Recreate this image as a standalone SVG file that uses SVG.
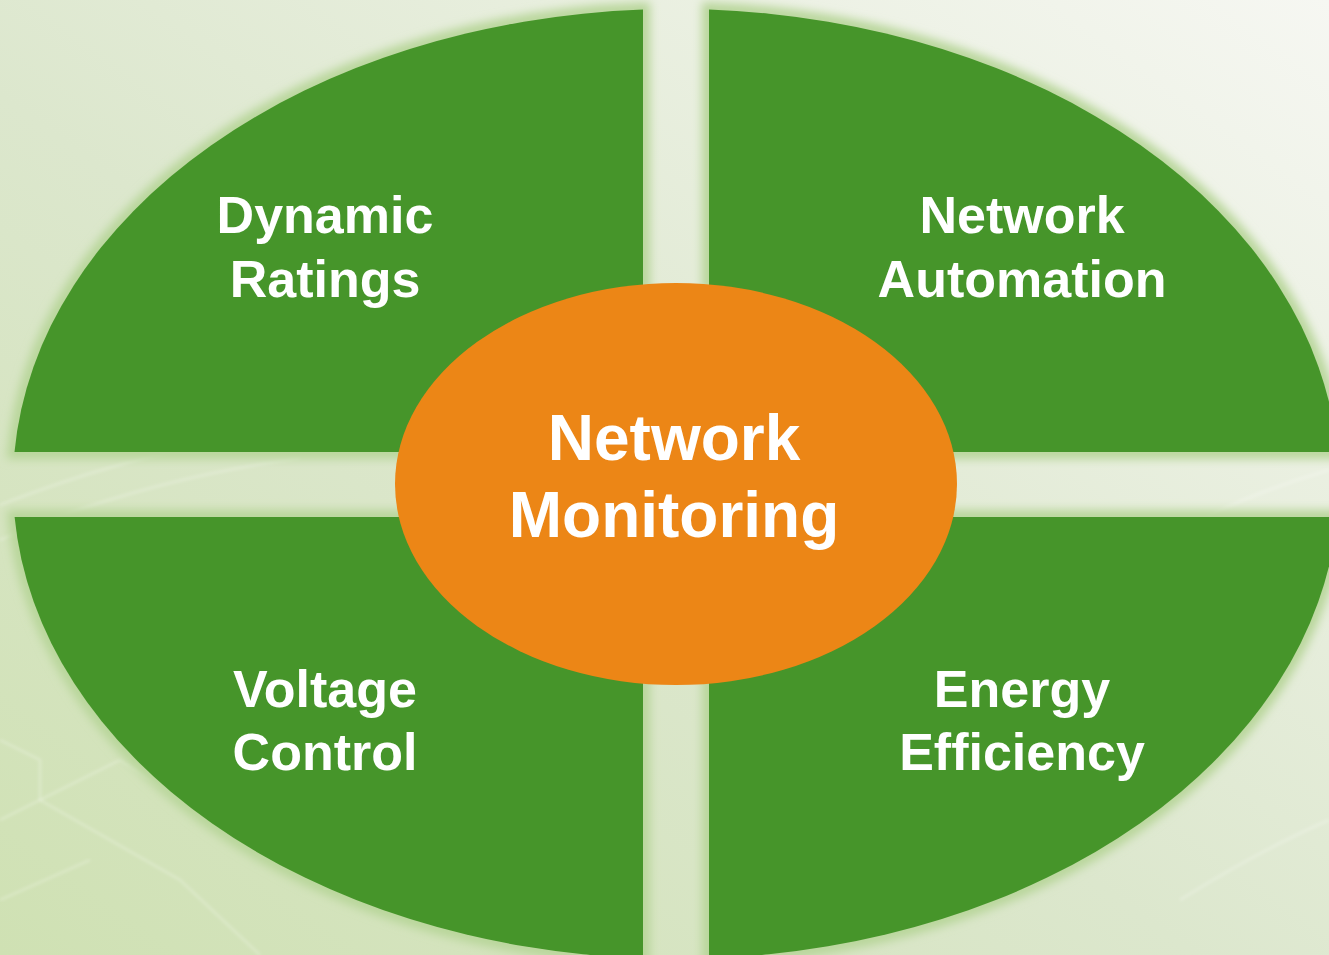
<svg xmlns="http://www.w3.org/2000/svg" width="1329" height="955" viewBox="0 0 1329 955">
  <defs>
    <linearGradient id="bg" x1="0" y1="1" x2="1" y2="0">
      <stop offset="0" stop-color="#cfe1b3"/>
      <stop offset="0.45" stop-color="#dce7cd"/>
      <stop offset="1" stop-color="#f6f7f2"/>
    </linearGradient>
    <filter id="halo" x="-10%" y="-10%" width="120%" height="120%">
      <feGaussianBlur stdDeviation="5"/>
    </filter>
    <filter id="soft" x="-5%" y="-5%" width="110%" height="110%">
      <feGaussianBlur stdDeviation="1.5"/>
    </filter>
    <style>
      .quad { fill: #46952a; }
      .glow { fill: none; stroke: #b8d69a; stroke-width: 14; filter: url(#halo); }
      .hub { fill: #ec8616; }
      .label { font-family: "Liberation Sans", Arial, sans-serif; font-weight: bold; fill: #ffffff; text-anchor: middle; }
      .small { font-size: 52px; }
      .big { font-size: 64px; }
      .wire { fill: none; stroke: #ffffff; stroke-opacity: 0.2; stroke-width: 3; filter: url(#soft); }
    </style>
  </defs>

  <!-- backdrop -->
  <rect x="0" y="0" width="1329" height="955" fill="url(#bg)"/>
  <g id="backdrop-texture">
    <path class="wire" d="M0,540 Q140,480 300,458"/>
    <path class="wire" d="M0,505 Q90,470 170,452"/>
    <path class="wire" d="M1200,520 Q1260,490 1329,470"/>
    <path class="wire" d="M0,740 L40,760 L40,800 L180,880 L260,955"/>
    <path class="wire" d="M0,820 L120,760 L260,850"/>
    <path class="wire" d="M0,900 L90,860"/>
    <path class="wire" d="M1180,900 Q1260,850 1329,820"/>
  </g>

  <!-- soft light rim around the quadrants -->
  <g id="rims">
    <path class="glow" d="M643,452 L14.5,452 A663,475 0 0 1 643,9.6 Z"/>
    <path class="glow" d="M709,452 L709,9.6 A663,475 0 0 1 1337.5,452 Z"/>
    <path class="glow" d="M643,517 L14.6,517 A663,475 0 0 0 643,958.4 Z"/>
    <path class="glow" d="M709,517 L1337.4,517 A663,475 0 0 1 709,958.4 Z"/>
  </g>

  <g id="dynamic-ratings">
    <path class="quad" d="M643,452 L14.5,452 A663,475 0 0 1 643,9.6 Z"/>
    <text class="label small" x="325" y="233">Dynamic</text>
    <text class="label small" x="325" y="297">Ratings</text>
  </g>

  <g id="network-automation">
    <path class="quad" d="M709,452 L709,9.6 A663,475 0 0 1 1337.5,452 Z"/>
    <text class="label small" x="1022" y="233">Network</text>
    <text class="label small" x="1022" y="297">Automation</text>
  </g>

  <g id="voltage-control">
    <path class="quad" d="M643,517 L14.6,517 A663,475 0 0 0 643,958.4 Z"/>
    <text class="label small" x="325" y="707">Voltage</text>
    <text class="label small" x="325" y="770">Control</text>
  </g>

  <g id="energy-efficiency">
    <path class="quad" d="M709,517 L1337.4,517 A663,475 0 0 1 709,958.4 Z"/>
    <text class="label small" x="1022" y="707">Energy</text>
    <text class="label small" x="1022" y="770">Efficiency</text>
  </g>

  <g id="network-monitoring">
    <ellipse class="hub" cx="676" cy="484" rx="281" ry="201"/>
    <text class="label big" x="674" y="460">Network</text>
    <text class="label big" x="674" y="537">Monitoring</text>
  </g>

  <g id="connectors"></g>
</svg>
